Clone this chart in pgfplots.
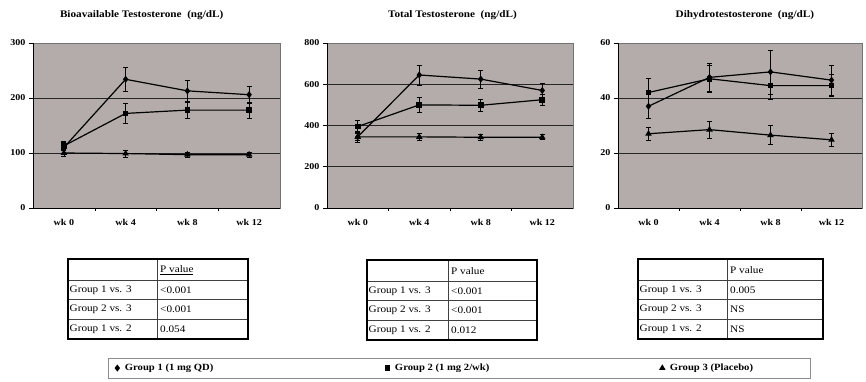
\documentclass[border=0pt]{standalone}
\usepackage{fontspec}
\setmainfont[FakeStretch=1.12]{Liberation Serif}
\usepackage{pgfplots}
\pgfplotsset{compat=1.18}
\definecolor{plotgray}{RGB}{180,172,170}

\pgfplotsset{
 panel/.style={
  scale only axis, height=165pt, ymin=0,
  xmin=-0.5, xmax=3.5, xtick={0,1,2,3}, xticklabels={wk 0,wk 4,wk 8,wk 12},
  minor xtick={0.5,1.5,2.5},
  major x tick style={draw=none}, minor x tick style={black, line width=0.5pt},
  y tick style={black, line width=0.6pt},
  tick align=outside, major tick length=4pt, minor tick length=3pt,
  axis lines*=left,
  axis line style={black, line width=0.8pt},
  axis background/.style={fill=plotgray, draw=black!55, line width=0.6pt},
  extra y tick labels={},
  extra y tick style={grid=major, major tick length=0pt},
  grid style={black!85, line width=0.9pt},
  tick label style={font=\fontsize{9}{10}\selectfont\bfseries},
  xticklabel style={yshift=-4pt},
  /pgf/number format/assume math mode=true,
  title style={font=\fontsize{10}{11}\selectfont\bfseries, anchor=south, yshift=14pt},
  every axis plot/.append style={black, line width=1.2pt, mark size=2.6pt, mark options={solid}},
  error bars/error bar style={line width=0.6pt},
  error bars/error mark options={rotate=90, mark size=2.6pt, line width=0.6pt},
  legend style={draw=none, fill=none, anchor=west, inner sep=0pt,
    font=\fontsize{9.5}{10}\selectfont\bfseries},
  legend image code/.code={\draw[#1, only marks] plot coordinates {(3pt,0pt)}; \path (0pt,0pt) (8pt,0pt);},
  clip=false,
 }
}

\newcommand{\ptable}[8]{%
 \begin{scope}[shift={(0,#4)}]
  \fill[white] (#1,0) rectangle (#3,-80);
  \draw[black!75, line width=0.5pt] (#1,-21) -- (#3,-21) (#1,-40.5) -- (#3,-40.5) (#1,-60)--(#3,-60) (#2,0) -- (#2,-80);
  \draw[black, line width=1.3pt] (#1,0) rectangle (#3,-80);
  \begin{scope}[every node/.style={anchor=west, inner sep=0pt, font=\fontsize{10}{11}\selectfont}]
   \node at (#2+3,-11) {#5};
   \node at (#1+1.5,-31) {Group 1 vs. 3};
   \node at (#1+1.5,-50.5) {Group 2 vs. 3};
   \node at (#1+1.5,-70) {Group 1 vs. 2};
   \node at (#2+3,-31) {#6};
   \node at (#2+3,-50.5) {#7};
   \node at (#2+3,-70) {#8};
  \end{scope}
 \end{scope}}

\begin{document}
\begin{tikzpicture}[x=1pt,y=1pt]
\useasboundingbox (0,0) rectangle (866,381);
\draw[black!45, line width=0.9pt] (108,3) rectangle (810,23);

% Panel 1
\begin{axis}[panel, at={(33pt,173pt)}, anchor=south west, width=247pt,
  ymax=300, ytick={0,100,200,300}, extra y ticks={100,200},
  title={Bioavailable Testosterone\ \ (ng/dL)}, title style={at={(0.44,1)}},
  legend style={at={(0.326,-0.97)}}]
\addplot[mark=diamond*, error bars/.cd, y dir=both, y explicit] coordinates {
 (0,110) +- (0,10) (1,234) +- (0,22) (2,213) +- (0,19) (3,206) +- (0,16)};
\addlegendentry{Group 1 (1 mg QD)}
\addplot[mark=square*, mark size=2.2pt, error bars/.cd, y dir=both, y explicit] coordinates {
 (0,113) +- (0,8) (1,172) +- (0,18) (2,178) +- (0,15) (3,178) +- (0,15)};
\addplot[mark=triangle*, error bars/.cd, y dir=both, y explicit] coordinates {
 (0,100) +- (0,6) (1,99) +- (0,6) (2,97) +- (0,5) (3,97) +- (0,5)};
\end{axis}

% Panel 2
\begin{axis}[panel, at={(327pt,173pt)}, anchor=south west, width=246pt,
  ymax=800, ytick={0,200,400,600,800}, extra y ticks={200,400,600},
  title={Total Testosterone\ \ (ng/dL)}, title style={at={(0.51,1)}},
  legend style={at={(0.23,-0.97)}}]
\addplot[mark=diamond*, forget plot, error bars/.cd, y dir=both, y explicit] coordinates {
 (0,345) +- (0,25) (1,645) +- (0,48) (2,625) +- (0,45) (3,570) +- (0,36)};
\addplot[mark=square*, mark size=2.2pt, error bars/.cd, y dir=both, y explicit] coordinates {
 (0,395) +- (0,28) (1,500) +- (0,35) (2,498) +- (0,30) (3,525) +- (0,28)};
\addlegendentry{Group 2 (1 mg 2/wk)}
\addplot[mark=triangle*, forget plot, error bars/.cd, y dir=both, y explicit] coordinates {
 (0,345) +- (0,15) (1,345) +- (0,15) (2,343) +- (0,15) (3,343) +- (0,12)};
\end{axis}

% Panel 3
\begin{axis}[panel, at={(618pt,173pt)}, anchor=south west, width=244pt,
  ymax=60, ytick={0,20,40,60}, extra y ticks={20,40},
  title={Dihydrotestosterone\ \ (ng/dL)}, title style={at={(0.52,1)}},
  legend style={at={(0.166,-0.97)}}]
\addplot[mark=diamond*, forget plot, error bars/.cd, y dir=both, y explicit] coordinates {
 (0,37) +- (0,4.5) (1,47.5) +- (0,5) (2,49.5) +- (0,8) (3,46.5) +- (0,5.5)};
\addplot[mark=square*, mark size=2.2pt, forget plot, error bars/.cd, y dir=both, y explicit] coordinates {
 (0,42) +- (0,5) (1,47) +- (0,5) (2,44.5) +- (0,5) (3,44.5) +- (0,4)};
\addplot[mark=triangle*, error bars/.cd, y dir=both, y explicit] coordinates {
 (0,27) +- (0,2.5) (1,28.5) +- (0,3) (2,26.5) +- (0,3.5) (3,24.8) +- (0,2.5)};
\addlegendentry{Group 3 (Placebo)}
\end{axis}

\ptable{68}{157}{248}{122}{\underline{P value}}{<0.001}{<0.001}{0.054}
\ptable{367}{448}{537}{121}{P value}{<0.001}{<0.001}{0.012}
\ptable{638}{727}{823}{122}{P value}{0.005}{NS}{NS}
\end{tikzpicture}
\end{document}
